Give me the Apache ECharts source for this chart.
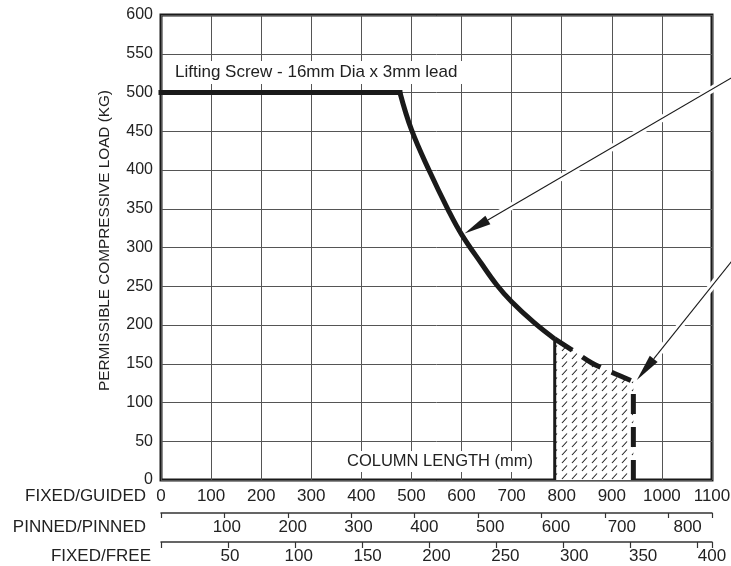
<!DOCTYPE html>
<html>
<head>
<meta charset="utf-8">
<script src="https://cdn.jsdelivr.net/npm/echarts@6/dist/echarts.min.js"></script>
<style>
html,body{margin:0;padding:0;background:#fff}
#main{width:731px;height:566px}
</style>
</head>
<body>
<div id="main"></div>
<script>
// load curve, column length on the fixed/guided scale (mm) vs load (kg)
var curveX = [0, 477, 500, 537, 573, 600, 640, 670, 700, 745, 786];
var curveY = [500, 500, 452, 397, 349, 317, 279, 252, 230, 203, 182];
// extrapolated (dashed) part, hatched underneath
var dashX = [786, 820, 860, 900, 943];
var dashY = [182, 168, 151, 139, 127];
var loadTicks = [0, 50, 100, 150, 200, 250, 300, 350, 400, 450, 500, 550, 600];
var guidedTicks = [0, 100, 200, 300, 400, 500, 600, 700, 800, 900, 1000, 1100];
var pinnedTicks = [0, 100, 200, 300, 400, 500, 600, 700, 800, 869];
var freeTicks = [0, 50, 100, 150, 200, 250, 300, 350, 400];
// arrows: tip and tail, in chart units
var arrowTip = [[606, 318], [950, 129]];
var arrowTail = [[1166, 529], [1166, 304]];

var font = "'Liberation Sans', Arial, Helvetica, sans-serif";
var ink = '#1a1a1a';
var txt = '#222';

function pairs(xs, ys) {
    var out = [];
    for (var i = 0; i < xs.length; i++) out.push([xs[i], ys[i]]);
    return out;
}
function plain(v) {
    return String(v);
}

// hatch tile
var tile = document.createElement('canvas');
tile.width = 10;
tile.height = 8;
var tc = tile.getContext('2d');
tc.fillStyle = '#fff';
tc.fillRect(0, 0, 10, 8);
tc.strokeStyle = '#222';
tc.lineWidth = 1.1;
tc.beginPath();
tc.moveTo(2, 7);
tc.lineTo(7, 1.5);
tc.stroke();

var myChart = echarts.init(document.getElementById('main'));

var nameStyle = {fontSize: 17, color: txt, verticalAlign: 'top'};

var option = {
    animation: false,
    backgroundColor: '#fff',
    textStyle: {fontFamily: font},
    title: [{
        text: 'Lifting Screw - 16mm Dia x 3mm lead',
        left: 170,
        top: 61,
        padding: [3, 5],
        backgroundColor: '#fff',
        textStyle: {fontSize: 17, fontWeight: 'normal', color: txt, fontFamily: font}
    }, {
        text: 'COLUMN LENGTH (mm)',
        left: 342,
        top: 451,
        padding: [2, 5],
        backgroundColor: '#fff',
        textStyle: {fontSize: 16.5, fontWeight: 'normal', color: txt, fontFamily: font}
    }],
    grid: {
        left: 161, right: 19, top: 15, bottom: 86,
        show: true, borderColor: ink, borderWidth: 3, backgroundColor: '#fff',
        outerBoundsMode: 'none'
    },
    xAxis: [{
        type: 'value', min: 0, max: 1100, interval: 100, position: 'bottom',
        name: 'FIXED/GUIDED', nameLocation: 'start', nameGap: 15,
        nameTextStyle: echarts.util.extend({padding: [8, 0, 0, 0]}, nameStyle),
        axisLine: {show: false}, axisTick: {show: false},
        axisLabel: {fontSize: 17, color: txt, margin: 8, formatter: plain, customValues: guidedTicks},
        splitLine: {show: true, lineStyle: {color: '#555', width: 1}}
    }, {
        type: 'value', min: 0, max: 869, interval: 100, position: 'bottom', offset: 33,
        axisLine: {show: true, onZero: false, lineStyle: {color: '#333', width: 1.5}},
        axisTick: {show: true, length: 5, lineStyle: {color: '#333', width: 1.2}, customValues: pinnedTicks},
        axisLabel: {show: false}, splitLine: {show: false}
    }, {
        type: 'value', min: 0, max: 837, interval: 100, position: 'bottom', offset: 33,
        name: 'PINNED/PINNED', nameLocation: 'start', nameGap: 15,
        nameTextStyle: echarts.util.extend({padding: [6, 0, 0, 0]}, nameStyle),
        axisLine: {show: false}, axisTick: {show: false},
        axisLabel: {fontSize: 17, color: txt, margin: 6, formatter: function (v) { return v === 0 ? '' : String(v); }},
        splitLine: {show: false}
    }, {
        type: 'value', min: 0, max: 411, interval: 50, position: 'bottom', offset: 62,
        axisLine: {show: true, onZero: false, lineStyle: {color: '#333', width: 1.5}},
        axisTick: {show: true, length: 6, lineStyle: {color: '#333', width: 1.2}},
        axisLabel: {show: false}, splitLine: {show: false}
    }, {
        type: 'value', min: 0, max: 400, interval: 50, position: 'bottom', offset: 62,
        name: 'FIXED/FREE', nameLocation: 'start', nameGap: 10,
        nameTextStyle: echarts.util.extend({padding: [6, 0, 0, 0]}, nameStyle),
        axisLine: {show: false}, axisTick: {show: false},
        axisLabel: {fontSize: 17, color: txt, margin: 6, formatter: plain, customValues: freeTicks.slice(1)},
        splitLine: {show: false}
    }],
    yAxis: {
        type: 'value', min: 0, max: 600, interval: 50,
        name: 'PERMISSIBLE COMPRESSIVE LOAD (KG)', nameLocation: 'middle', nameGap: 49,
        nameTextStyle: {fontSize: 15.3, color: txt, padding: [0, 0, 0, 14]},
        axisLine: {show: false}, axisTick: {show: false},
        axisLabel: {fontSize: 16, color: txt, margin: 8, customValues: loadTicks},
        splitLine: {show: true, lineStyle: {color: '#555', width: 1}}
    },
    series: [{
        // hatched zone under the dashed part
        type: 'line', silent: true, symbol: 'none', z: 2,
        data: pairs(dashX, dashY),
        smooth: 0.3,
        lineStyle: {width: 0},
        areaStyle: {color: {image: tile, repeat: 'repeat'}, opacity: 1}
    }, {
        // flat part
        type: 'line', silent: true, symbol: 'none', z: 4,
        data: pairs(curveX.slice(0, 2), curveY.slice(0, 2)),
        lineStyle: {color: ink, width: 5, cap: 'square'}
    }, {
        type: 'line', silent: true, symbol: 'none', z: 4,
        data: pairs(curveX.slice(1), curveY.slice(1)),
        smooth: 0.4,
        lineStyle: {color: ink, width: 5, cap: 'butt'}
    }, {
        type: 'line', silent: true, symbol: 'none', z: 4,
        data: pairs(dashX, dashY),
        smooth: 0.3,
        lineStyle: {color: ink, width: 5, type: [21, 12], cap: 'butt'}
    }, {
        type: 'line', silent: true, symbol: 'none', z: 4,
        data: [[dashX[0], 0], [dashX[0], dashY[0]]],
        lineStyle: {color: ink, width: 3}
    }, {
        type: 'line', silent: true, symbol: 'none', z: 4,
        data: [[dashX[dashX.length - 1], 0], [dashX[dashX.length - 1], dashY[dashY.length - 1]]],
        lineStyle: {color: ink, width: 5, type: [20, 13], cap: 'butt'}
    }]
};

myChart.setOption(option);

// arrows drawn from chart units through the axes
var graphics = [];
for (var i = 0; i < arrowTip.length; i++) {
    var t = myChart.convertToPixel({xAxisIndex: 0, yAxisIndex: 0}, arrowTip[i]);
    var s = myChart.convertToPixel({xAxisIndex: 0, yAxisIndex: 0}, arrowTail[i]);
    var dx = s[0] - t[0], dy = s[1] - t[1];
    var len = Math.sqrt(dx * dx + dy * dy);
    var ux = dx / len, uy = dy / len;
    var headLen = 27, half = 5;
    var bx = t[0] + ux * headLen, by = t[1] + uy * headLen;
    graphics.push({
        type: 'line', z: 1, silent: true,
        shape: {x1: bx + ux * 4, y1: by + uy * 4, x2: s[0], y2: s[1]},
        style: {stroke: '#fff', lineWidth: 7}
    });
    graphics.push({
        type: 'line', z: 100, silent: true,
        shape: {x1: bx, y1: by, x2: s[0], y2: s[1]},
        style: {stroke: ink, lineWidth: 1.1}
    });
    graphics.push({
        type: 'polygon', z: 100, silent: true,
        shape: {points: [[t[0], t[1]], [bx - uy * half, by + ux * half], [bx + uy * half, by - ux * half]]},
        style: {fill: ink}
    });
}
myChart.setOption({graphic: graphics});
</script>
</body>
</html>
